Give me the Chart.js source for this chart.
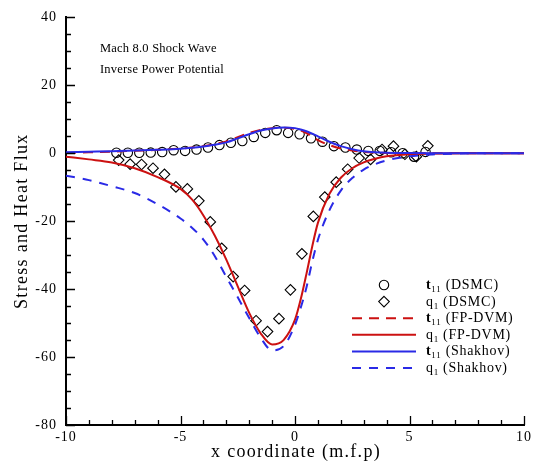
<!DOCTYPE html>
<html><head><meta charset="utf-8">
<script src="https://cdn.jsdelivr.net/npm/chart.js@4.4.1/dist/chart.umd.min.js"></script>
<style>html,body{margin:0;padding:0;background:#fff;}#wrap{width:535px;height:463px;}</style>
</head><body><div id="wrap"><canvas id="c" width="535" height="463"></canvas></div>
<script>
// ---- data ----
const curveX = [-10,-9,-8,-7,-6,-5,-4.5,-4,-3.5,-3,-2.5,-2,-1.5,-1,-0.5,0,0.25,0.5,0.75,1,1.5,2,2.5,3,3.5,4,5,6,7,8,10];
const t11FP  = [0.1,0.3,0.5,0.75,1.0,1.4,1.7,2.1,2.7,3.5,4.7,6.0,6.9,7.4,7.5,7.2,6.7,5.9,4.9,3.9,2.4,1.4,0.8,0.4,0.2,0.1,0,0,0,0,0];
const q1FP   = [-1.0,-1.8,-2.7,-4.4,-7.0,-10.5,-13.6,-18.3,-24.3,-31.3,-39.2,-47.0,-53.0,-56.3,-55.0,-49.0,-43.0,-35.5,-27.5,-20.5,-12.0,-7.2,-4.4,-2.7,-1.6,-0.9,-0.3,-0.1,0,0,0];
const t11Sh  = [0.3,0.45,0.6,0.8,1.0,1.3,1.6,2.0,2.5,3.2,4.4,5.6,6.7,7.3,7.6,7.4,7.0,6.5,5.8,5.0,3.4,2.1,1.2,0.6,0.3,0.15,0.05,0,0,0,0];
const q1Sh   = [-6.6,-7.9,-9.7,-11.7,-15.0,-19.2,-21.9,-25.4,-30.3,-36.4,-42.4,-48.5,-54.3,-58.0,-56.8,-50.5,-45.5,-39.5,-32.0,-25.5,-16.8,-11.0,-7.3,-4.8,-3.2,-2.1,-0.9,-0.35,-0.1,0,0];
const dsmcT11X = [-7.8,-7.3,-6.8,-6.3,-5.8,-5.3,-4.8,-4.3,-3.8,-3.3,-2.8,-2.3,-1.8,-1.3,-0.8,-0.3,0.2,0.7,1.2,1.7,2.2,2.7,3.2,3.7,4.2,4.7,5.2,5.7];
const dsmcT11Y = [0.15,0.15,0.15,0.2,0.35,0.9,0.7,1.1,1.7,2.4,3.1,3.6,4.8,6.0,6.8,6.0,5.6,4.4,3.4,2.1,1.7,1.1,0.7,0.7,0.3,0.0,-1.0,0.4];
const dsmcQ1X = [-7.7,-7.2,-6.7,-6.2,-5.7,-5.2,-4.7,-4.2,-3.7,-3.2,-2.7,-2.2,-1.7,-1.2,-0.7,-0.2,0.3,0.8,1.3,1.8,2.3,2.8,3.3,3.8,4.3,4.8,5.3,5.8];
const dsmcQ1Y = [-2.0,-3.2,-3.3,-4.4,-6.2,-9.9,-10.5,-14.0,-20.2,-28.0,-36.3,-40.4,-49.3,-52.5,-48.7,-40.2,-29.6,-18.6,-12.9,-8.5,-4.7,-1.4,-1.8,1.1,2.1,-0.3,-1.0,2.2];
const xTickLabels = [-10,-5,0,5,10];
const yTickLabels = [-80,-60,-40,-20,0,20,40];
const annotationLines = ['Mach 8.0 Shock Wave','Inverse Power Potential'];

const RED = '#cc1111', BLUE = '#2a2ae6';
const SERIF = '"Liberation Serif", "DejaVu Serif", serif';
const pts = (xs, ys) => xs.map((x,i)=>({x, y: ys[i]}));

const spacing = {
  id: 'spacing',
  beforeDraw(chart) { chart.ctx.letterSpacing = '1px'; }
};

const innerTicks = {
  id: 'innerTicks',
  afterDraw(chart) {
    const ctx = chart.ctx, xs = chart.scales.x, ys = chart.scales.y, a = chart.chartArea;
    ctx.save();
    ctx.strokeStyle = '#000'; ctx.lineWidth = 1.3;
    ctx.beginPath();
    for (let v = -10; v <= 10; v += 1) {
      const px = Math.round(xs.getPixelForValue(v)) + 0.5;
      const len = (v % 5 === 0) ? 9 : 5;
      ctx.moveTo(px, a.bottom); ctx.lineTo(px, a.bottom - len);
    }
    for (let v = -80; v <= 40; v += 5) {
      const py = Math.round(ys.getPixelForValue(v)) + 0.5;
      const len = (v % 20 === 0) ? 9 : 5;
      ctx.moveTo(a.left, py); ctx.lineTo(a.left + len, py);
    }
    ctx.stroke();
    // axis titles
    ctx.fillStyle = '#000';
    ctx.letterSpacing = '1.3px';
    ctx.font = '18px ' + SERIF;
    ctx.textAlign = 'center'; ctx.textBaseline = 'middle';
    ctx.fillText('x coordinate (m.f.p)', (a.left + a.right) / 2 + 1, 452);
    ctx.save();
    ctx.translate(22, (a.top + a.bottom) / 2);
    ctx.rotate(-Math.PI / 2);
    ctx.fillText('Stress and Heat Flux', 0, 0);
    ctx.restore();
    // annotation
    ctx.textAlign = 'left'; ctx.textBaseline = 'alphabetic';
    ctx.letterSpacing = '0.2px';
    ctx.font = '12.5px ' + SERIF;
    ctx.fillText(annotationLines[0], 100, 52);
    ctx.fillText(annotationLines[1], 100, 73);
    // legend
    const rows = [
      {type:'circle', parts:[['t','b'],['11','s'],[' (DSMC)','n']]},
      {type:'diamond', parts:[['q','n'],['1','s'],[' (DSMC)','n']]},
      {type:'line', color:RED, dash:[10,7], parts:[['t','b'],['11','s'],[' (FP-DVM)','n']]},
      {type:'line', color:RED, dash:[], parts:[['q','n'],['1','s'],[' (FP-DVM)','n']]},
      {type:'line', color:BLUE, dash:[], parts:[['t','b'],['11','s'],[' (Shakhov)','n']]},
      {type:'line', color:BLUE, dash:[9,8], parts:[['q','n'],['1','s'],[' (Shakhov)','n']]},
    ];
    const y0 = 285, dy = 16.6;
    ctx.letterSpacing = '0.7px';
    rows.forEach((r, i) => {
      const cy = y0 + i * dy;
      ctx.save();
      if (r.type === 'circle') {
        ctx.strokeStyle = '#000'; ctx.lineWidth = 1.1; ctx.setLineDash([]);
        ctx.beginPath(); ctx.arc(384, cy, 4.7, 0, Math.PI*2); ctx.stroke();
      } else if (r.type === 'diamond') {
        ctx.strokeStyle = '#000'; ctx.lineWidth = 1.1; ctx.setLineDash([]);
        ctx.beginPath(); ctx.moveTo(384, cy-5.3); ctx.lineTo(389.3, cy); ctx.lineTo(384, cy+5.3); ctx.lineTo(378.7, cy); ctx.closePath(); ctx.stroke();
      } else {
        ctx.strokeStyle = r.color; ctx.lineWidth = 2; ctx.setLineDash(r.dash);
        ctx.beginPath(); ctx.moveTo(352, cy); ctx.lineTo(416, cy); ctx.stroke();
      }
      ctx.restore();
      let x = 426;
      const base = cy + 4;
      r.parts.forEach(([t, s]) => {
        if (s === 's') { ctx.font = '9px ' + SERIF; ctx.fillText(t, x, base + 3); }
        else { ctx.font = (s === 'b' ? 'bold ' : '') + '14px ' + SERIF; ctx.fillText(t, x, base); }
        x += ctx.measureText(t).width;
      });
    });
    ctx.restore();
  }
};

new Chart(document.getElementById('c'), {
  type: 'scatter',
  data: {
    datasets: [
      {label:'t11 (DSMC)', data: pts(dsmcT11X, dsmcT11Y), pointStyle:'circle', pointRadius:4.7, borderColor:'#000', backgroundColor:'rgba(0,0,0,0)', borderWidth:1.1, showLine:false, order:5},
      {label:'q1 (DSMC)', data: pts(dsmcQ1X, dsmcQ1Y), pointStyle:'rectRot', pointRadius:5.3, borderColor:'#000', backgroundColor:'rgba(0,0,0,0)', borderWidth:1.1, showLine:false, order:6},
      {label:'t11 (FP-DVM)', data: pts(curveX, t11FP), showLine:true, pointRadius:0, borderColor:RED, borderWidth:2, borderDash:[10,7], cubicInterpolationMode:'monotone', order:4},
      {label:'q1 (FP-DVM)', data: pts(curveX, q1FP), showLine:true, pointRadius:0, borderColor:RED, borderWidth:2, cubicInterpolationMode:'monotone', order:3},
      {label:'t11 (Shakhov)', data: pts(curveX, t11Sh), showLine:true, pointRadius:0, borderColor:BLUE, borderWidth:2, cubicInterpolationMode:'monotone', order:1},
      {label:'q1 (Shakhov)', data: pts(curveX, q1Sh), showLine:true, pointRadius:0, borderColor:BLUE, borderWidth:2, borderDash:[9,8], cubicInterpolationMode:'monotone', order:2},
    ]
  },
  options: {
    responsive: false, animation: false, devicePixelRatio: 1,
    layout: {padding: {top: 17, right: 11, bottom: 0, left: 0}},
    plugins: {legend: {display: false}, tooltip: {enabled: false}},
    scales: {
      x: {
        type: 'linear', min: -10, max: 10,
        afterBuildTicks: s => { s.ticks = xTickLabels.map(v => ({value: v})); },
        afterFit: s => { s.height = 38; },
        grid: {display: true, drawOnChartArea: false, drawTicks: false},
        border: {display: true, color: '#000', width: 2},
        ticks: {color: '#000', font: {family: SERIF, size: 14}, padding: 4, maxRotation: 0, autoSkip: false},
        title: {display: false}
      },
      y: {
        type: 'linear', min: -80, max: 40,
        afterBuildTicks: s => { s.ticks = yTickLabels.map(v => ({value: v})); },
        afterFit: s => { s.width = 66; },
        grid: {display: true, drawOnChartArea: false, drawTicks: false},
        border: {display: true, color: '#000', width: 2},
        ticks: {color: '#000', font: {family: SERIF, size: 14}, padding: 9, autoSkip: false},
        title: {display: false}
      }
    }
  },
  plugins: [spacing, innerTicks]
});
</script>
</body></html>
